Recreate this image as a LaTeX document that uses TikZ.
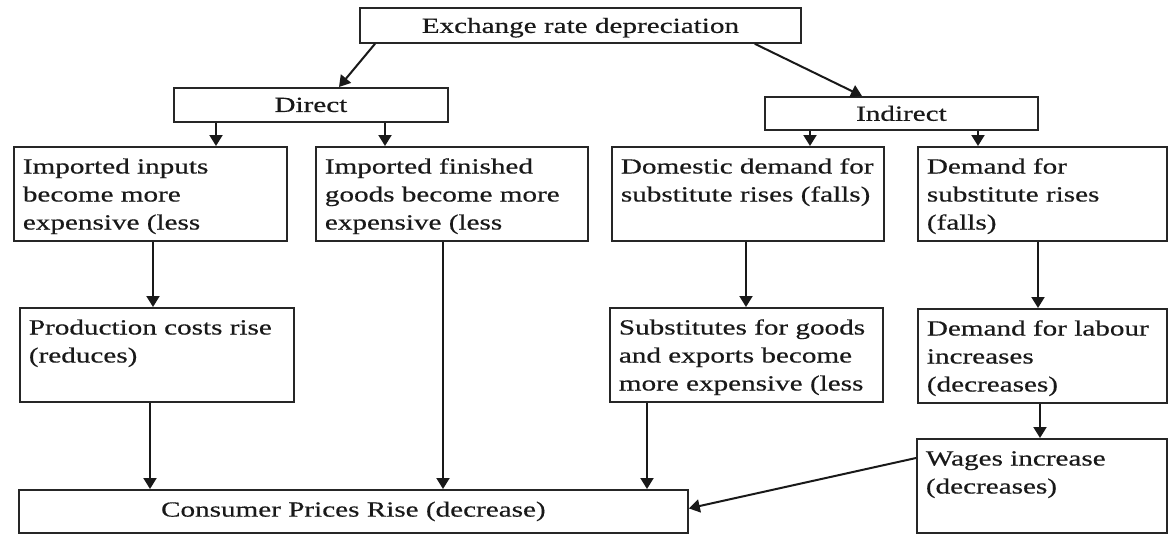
\documentclass[tikz,border=0pt]{standalone}
\usepackage{fontspec}
\setmainfont{Liberation Serif}[FakeStretch=1.35,FakeBold=0.5]
\usetikzlibrary{arrows.meta}
\newcommand{\flowtext}[3]{\parbox[c][#2pt][t]{#1pt}{\raggedright\strut#3}}

\begin{document}
\begin{tikzpicture}[x=1pt,y=-1pt,
  every node/.style={font=\fontsize{21.6}{28}\selectfont,text=black!90},
  tbox/.style={draw=black!85,line width=1.8pt,anchor=north west,inner xsep=9pt,inner ysep=7pt},
  hbox/.style={draw=black!85,line width=1.8pt,anchor=north west,inner sep=0pt},
  arr/.style={draw=black!90,line width=2pt,-{Triangle[length=11pt,width=13pt]}}]
\useasboundingbox (0,0) rectangle (1170,533);
% top row
\node[hbox,minimum width=441pt,minimum height=35pt,text depth=0pt] (rate) at (359,7) {Exchange rate depreciation};
\node[hbox,minimum width=274pt,minimum height=34pt] (direct) at (173,87) {Direct};
\node[hbox,minimum width=273pt,minimum height=33pt] (indirect) at (764,96) {Indirect};
% second row
\node[tbox] (inputs) at (13,146) {\flowtext{255}{80}{Imported inputs\\become more\\expensive (less}};
\node[tbox] (finished) at (315,146) {\flowtext{254}{80}{Imported finished\\goods become more\\expensive (less}};
\node[tbox] (domestic) at (611,146) {\flowtext{254}{80}{Domestic demand for\\substitute rises (falls)}};
\node[tbox] (subdemand) at (917,146) {\flowtext{231}{80}{Demand for\\substitute rises\\(falls)}};
% third row
\node[tbox] (costs) at (19,307) {\flowtext{256}{80}{Production costs rise\\(reduces)}};
\node[tbox] (exports) at (609,307) {\flowtext{255}{80}{Substitutes for goods\\and exports become\\more expensive (less}};
\node[tbox] (labour) at (917,308) {\flowtext{231}{80}{Demand for labour\\increases\\(decreases)}};
% bottom
\node[tbox] (wages) at (916,438) {\flowtext{232}{80}{Wages increase\\(decreases)}};
\node[hbox,minimum width=669pt,minimum height=43pt] (prices) at (18,489) {Consumer Prices Rise (decrease)};

\draw[arr] ([xshift=16]rate.south west) -- ([xshift=166]direct.north west);
\draw[arr] ([xshift=-47]rate.south east) -- ([xshift=98]indirect.north west);
\draw[arr] ([xshift=43]direct.south west) coordinate (c) -- (c |- inputs.north);
\draw[arr] ([xshift=212]direct.south west) coordinate (c) -- (c |- finished.north);
\draw[arr] ([xshift=46]indirect.south west) coordinate (c) -- (c |- domestic.north);
\draw[arr] ([xshift=214]indirect.south west) coordinate (c) -- (c |- subdemand.north);
\draw[arr] ([xshift=140]inputs.south west) coordinate (c) -- (c |- costs.north);
\draw[arr] ([xshift=135]domestic.south west) coordinate (c) -- (c |- exports.north);
\draw[arr] ([xshift=121]subdemand.south west) coordinate (c) -- (c |- labour.north);
\draw[arr] ([xshift=123]labour.south west) coordinate (c) -- (c |- wages.north);
\draw[arr] ([xshift=131]costs.south west) coordinate (c) -- (c |- prices.north);
\draw[arr] ([xshift=128]finished.south west) coordinate (c) -- (c |- prices.north);
\draw[arr] ([xshift=38]exports.south west) coordinate (c) -- (c |- prices.north);
\draw[arr] ([yshift=-20]wages.north west) -- ([yshift=3]prices.east);
\end{tikzpicture}
\end{document}
